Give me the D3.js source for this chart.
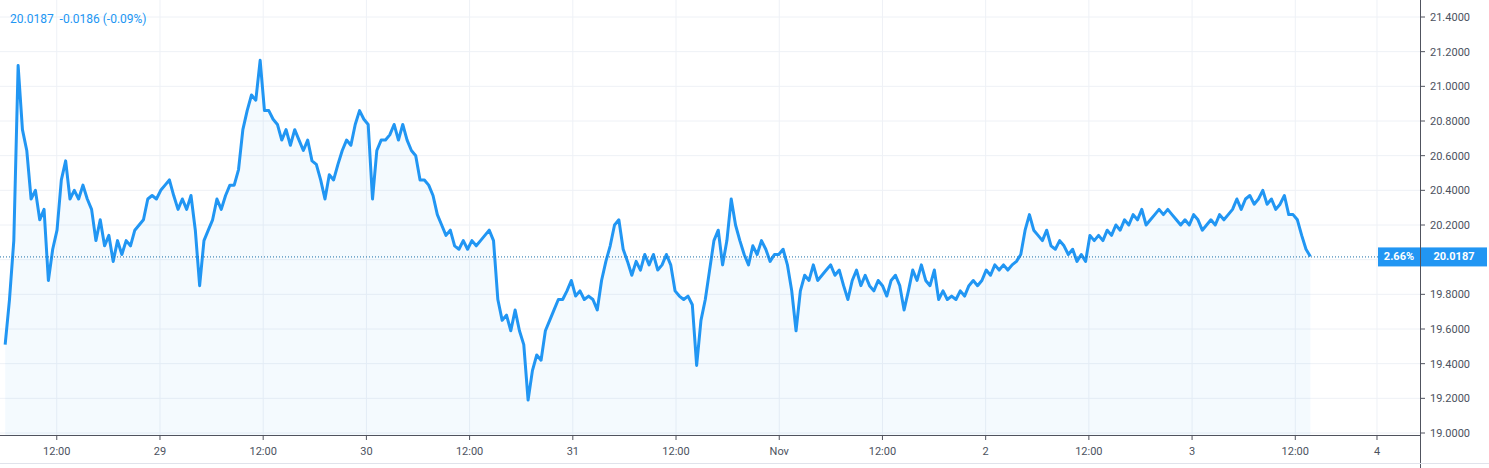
<!DOCTYPE html>
<html><head><meta charset="utf-8">
<script src="https://cdn.jsdelivr.net/npm/d3@7"></script>
<style>body{margin:0;background:#fff;font-family:"Roboto","DejaVu Sans",sans-serif}</style>
</head><body><svg id="chart" width="1489" height="468"></svg>
<script>
// half-hourly closes, Oct 28 06:00 -> Nov 3 ~13:45
const prices = [
  19.51,19.77,20.11,21.12,20.75,20.63,20.35,20.40,20.23,20.29,19.88,20.06,20.17,20.46,20.57,20.35,
  20.40,20.35,20.43,20.35,20.29,20.11,20.23,20.08,20.14,19.99,20.11,20.03,20.11,20.08,20.17,20.20,
  20.23,20.35,20.37,20.35,20.40,20.43,20.46,20.37,20.29,20.35,20.29,20.37,20.17,19.85,20.11,20.17,
  20.23,20.35,20.29,20.37,20.43,20.43,20.52,20.75,20.86,20.95,20.92,21.15,20.86,20.86,20.81,20.78,
  20.69,20.75,20.66,20.75,20.69,20.63,20.69,20.57,20.55,20.46,20.35,20.49,20.46,20.55,20.63,20.69,
  20.66,20.78,20.86,20.81,20.78,20.35,20.63,20.69,20.69,20.72,20.78,20.69,20.78,20.69,20.63,20.60,
  20.46,20.46,20.43,20.37,20.26,20.20,20.14,20.17,20.08,20.06,20.11,20.06,20.11,20.08,20.11,20.14,
  20.17,20.11,19.77,19.65,19.68,19.59,19.71,19.59,19.51,19.19,19.36,19.45,19.42,19.59,19.65,19.71,
  19.77,19.77,19.82,19.88,19.79,19.82,19.77,19.79,19.77,19.71,19.88,19.99,20.08,20.20,20.23,20.06,
  19.99,19.91,19.99,19.94,20.03,19.97,20.03,19.94,19.97,20.03,19.97,19.82,19.79,19.77,19.79,19.74,
  19.39,19.65,19.77,19.94,20.11,20.17,19.97,20.11,20.35,20.20,20.11,20.03,19.97,20.08,20.03,20.11,
  20.06,19.99,20.03,20.03,20.06,19.97,19.82,19.59,19.82,19.91,19.88,19.97,19.88,19.91,19.94,19.97,
  19.91,19.94,19.85,19.77,19.88,19.94,19.85,19.91,19.85,19.82,19.88,19.85,19.79,19.88,19.91,19.85,
  19.71,19.82,19.94,19.88,19.97,19.88,19.85,19.94,19.77,19.82,19.77,19.79,19.77,19.82,19.79,19.85,
  19.88,19.85,19.88,19.94,19.91,19.97,19.94,19.97,19.94,19.97,19.99,20.03,20.17,20.26,20.17,20.14,
  20.11,20.17,20.08,20.06,20.11,20.08,20.03,20.06,19.99,20.03,19.99,20.14,20.11,20.14,20.11,20.17,
  20.14,20.20,20.17,20.23,20.20,20.26,20.23,20.29,20.20,20.23,20.26,20.29,20.26,20.29,20.26,20.23,
  20.20,20.23,20.20,20.26,20.23,20.17,20.20,20.23,20.20,20.26,20.23,20.26,20.29,20.35,20.29,20.35,
  20.37,20.32,20.35,20.40,20.32,20.35,20.29,20.32,20.37,20.26,20.26,20.23,20.14,20.06,20.0187
];
const startTime = Date.UTC(2020, 9, 28, 6, 0);
const endTime = Date.UTC(2020, 10, 3, 13, 45);
const yTicks = [19.0, 19.2, 19.4, 19.6, 19.8, 20.0, 20.2, 20.4, 20.6, 20.8, 21.0, 21.2, 21.4];
const xTickTimes = [
  [Date.UTC(2020, 9, 28, 12), '12:00'], [Date.UTC(2020, 9, 29), '29'],
  [Date.UTC(2020, 9, 29, 12), '12:00'], [Date.UTC(2020, 9, 30), '30'],
  [Date.UTC(2020, 9, 30, 12), '12:00'], [Date.UTC(2020, 9, 31), '31'],
  [Date.UTC(2020, 9, 31, 12), '12:00'], [Date.UTC(2020, 10, 1), 'Nov'],
  [Date.UTC(2020, 10, 1, 12), '12:00'], [Date.UTC(2020, 10, 2), '2'],
  [Date.UTC(2020, 10, 2, 12), '12:00'], [Date.UTC(2020, 10, 3), '3'],
  [Date.UTC(2020, 10, 3, 12), '12:00'], [Date.UTC(2020, 10, 3, 21, 30), '4']
];
const lastValue = 20.0187, changeText = '-0.0186 (-0.09%)', pctText = '2.66%';

const svg = d3.select('#chart'),
    plotW = 1420, plotH = 435,
    blue = '#2196f3';

const step = (endTime - startTime) / (prices.length - 1);
const data = prices.map((v, i) => ({ t: new Date(startTime + i * step), v }));

const x = d3.scaleUtc()
    .domain([new Date(Date.UTC(2020, 9, 28, 5, 24)), new Date(Date.UTC(2020, 10, 4, 2, 30))])
    .range([0, plotW]);
const y = d3.scaleLinear().domain([19.0, 21.4]).range([433, 17]);
const ly = y(lastValue);

// grid
svg.append('g').selectAll('line').data(yTicks).enter().append('line')
    .attr('x1', 0).attr('x2', plotW).attr('y1', d => y(d)).attr('y2', d => y(d))
    .attr('stroke', '#eef1f6');
svg.append('g').selectAll('line').data(xTickTimes).enter().append('line')
    .attr('x1', d => x(d[0])).attr('x2', d => x(d[0])).attr('y1', 0).attr('y2', plotH)
    .attr('stroke', '#eef1f6');

// area + line
svg.append('path').datum(data)
    .attr('fill', 'rgba(33,150,243,0.05)')
    .attr('d', d3.area().x(d => x(d.t)).y0(plotH).y1(d => y(d.v)));
svg.append('path').datum(data)
    .attr('fill', 'none').attr('stroke', blue).attr('stroke-width', 3)
    .attr('stroke-linejoin', 'round')
    .attr('d', d3.line().x(d => x(d.t)).y(d => y(d.v)));

// last price dotted line
svg.append('line').attr('x1', 0).attr('x2', plotW)
    .attr('y1', ly + 0.5).attr('y2', ly + 0.5)
    .attr('stroke', '#1c6fa8').attr('stroke-dasharray', '1,2');

// axes frame
svg.append('line').attr('x1', plotW + 0.5).attr('x2', plotW + 0.5).attr('y1', 0).attr('y2', 468)
    .attr('stroke', '#50535e');
svg.append('line').attr('x1', 0).attr('x2', plotW).attr('y1', plotH + 0.5).attr('y2', plotH + 0.5)
    .attr('stroke', '#50535e');

// y labels (the one hidden behind the price box is skipped)
const shownY = yTicks.filter(d => Math.abs(y(d) - ly) > 12);
const yg = svg.append('g');
yg.selectAll('line').data(yTicks).enter().append('line')
    .attr('x1', plotW).attr('x2', plotW + 5).attr('y1', d => y(d)).attr('y2', d => y(d))
    .attr('stroke', '#50535e');
yg.selectAll('text').data(shownY).enter().append('text')
    .attr('x', plotW + 10).attr('y', d => y(d) + 4)
    .attr('font-size', 11).attr('fill', '#4c525e')
    .text(d => d.toFixed(4));

// x labels
const xg = svg.append('g');
xg.selectAll('line').data(xTickTimes).enter().append('line')
    .attr('x1', d => x(d[0])).attr('x2', d => x(d[0])).attr('y1', plotH).attr('y2', plotH + 5)
    .attr('stroke', '#50535e');
xg.selectAll('text').data(xTickTimes).enter().append('text')
    .attr('x', d => x(d[0])).attr('y', plotH + 20).attr('text-anchor', 'middle')
    .attr('font-size', 11).attr('fill', '#4c525e')
    .text(d => d[1]);
svg.append('line').attr('x1', 0).attr('x2', 1489).attr('y1', 463.5).attr('y2', 463.5)
    .attr('stroke', '#e0e3eb');

// price labels
svg.append('rect').attr('x', 1378).attr('y', ly - 9).attr('width', 42).attr('height', 19).attr('fill', blue);
svg.append('text').attr('x', 1399).attr('y', ly + 4).attr('text-anchor', 'middle')
    .attr('font-size', 11).attr('font-weight', 'bold').attr('fill', '#fff').text(pctText);
svg.append('rect').attr('x', 1421).attr('y', ly - 9).attr('width', 66).attr('height', 19).attr('fill', blue);
svg.append('text').attr('x', 1454).attr('y', ly + 4).attr('text-anchor', 'middle')
    .attr('font-size', 11).attr('font-weight', 'bold').attr('fill', '#fff').text(lastValue.toFixed(4));

// header
svg.append('text').attr('x', 10).attr('y', 23).attr('font-size', 12).attr('fill', blue)
    .attr('xml:space', 'preserve')
    .text(lastValue.toFixed(4) + '  ' + changeText);
</script></body></html>
